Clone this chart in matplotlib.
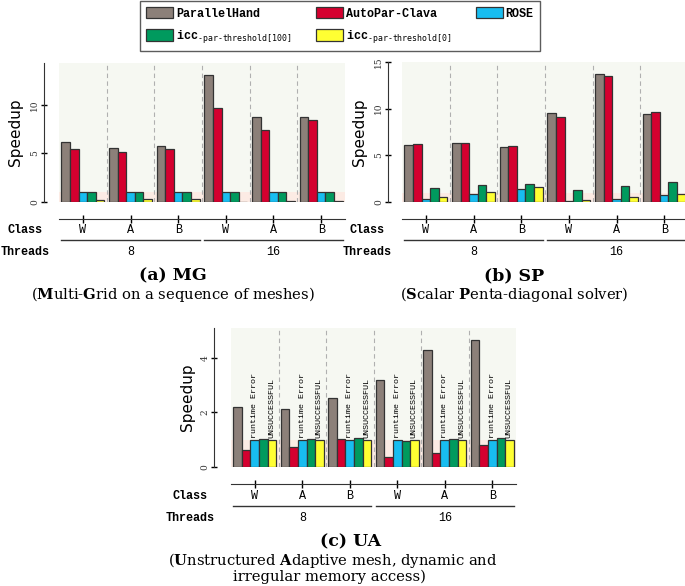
import numpy as np
import matplotlib.pyplot as plt
import matplotlib.transforms as mtransforms
from matplotlib.patches import Patch

plt.rcParams['mathtext.fontset'] = 'dejavuserif'

# dados
classes = ['W', 'A', 'B', 'W', 'A', 'B']
threads = ['8', '16']
nomes = ['ParallelHand', 'AutoPar-Clava', 'ROSE',
         r'icc$_{\mathtt{‐par‐threshold[100]}}$', r'icc$_{\mathtt{‐par‐threshold[0]}}$']
cores = ['#8c8079', '#d4002f', '#18bdf0', '#009a5e', '#ffff33']

mg_ph = [6.2, 5.6, 5.75, 13.1, 8.75, 8.7]
mg_ac = [5.5, 5.1, 5.5, 9.65, 7.4, 8.4]
mg_rose = [1.05, 1.0, 1.0, 1.05, 1.0, 1.0]
mg_icc100 = [1.05, 1.0, 1.0, 1.0, 1.0, 1.0]
mg_icc0 = [0.25, 0.35, 0.35, 0.05, 0.15, 0.15]

sp_ph = [6.15, 6.35, 5.85, 9.5, 13.7, 9.4]
sp_ac = [6.2, 6.35, 6.05, 9.15, 13.55, 9.65]
sp_rose = [0.35, 0.9, 1.35, 0.15, 0.35, 0.7]
sp_icc100 = [1.5, 1.8, 1.9, 1.25, 1.7, 2.1]
sp_icc0 = [0.5, 1.05, 1.6, 0.2, 0.5, 0.9]

ua_ph = [2.2, 2.12, 2.53, 3.19, 4.3, 4.65]
ua_ac = [0.62, 0.74, 1.03, 0.38, 0.5, 0.8]
ua_rose = [1.0, 1.0, 1.0, 1.0, 1.0, 1.0]
ua_icc100 = [1.03, 1.03, 1.07, 0.96, 1.03, 1.07]
ua_icc0 = [1.0, 1.0, 1.0, 1.0, 1.0, 1.0]

W, H = 685, 586
fig = plt.figure(figsize=(W / 100, H / 100), dpi=100)

mono = 'Liberation Mono'
serif = 'DejaVu Serif'


def fy(py):
    return 1 - py / H


def painel(rect, series, ymax, yticks, spine_out, ylin_class, x_class, x_ylabel):
    ax = fig.add_axes([rect[0] / W, fy(rect[3]), (rect[2] - rect[0]) / W, (rect[3] - rect[1]) / H])
    n = len(classes)
    x = np.arange(n)
    larg = 0.18
    # spines primeiro (set_position recria os ticks)
    ax.spines['top'].set_visible(False)
    ax.spines['right'].set_visible(False)
    ax.spines['left'].set_position(('outward', spine_out))
    ax.spines['bottom'].set_position(('outward', 12))
    ax.spines['left'].set_color('#333333')
    ax.spines['bottom'].set_color('#333333')

    ax.axhspan(0, 1, color='#fcebe4', zorder=0, lw=0)
    ax.axhspan(1, ymax, color='#f6f8f2', zorder=0, lw=0)
    for i in range(1, n):
        ax.axvline(i - 0.5, color='#b0b0b0', ls=(0, (4, 3)), lw=0.8, zorder=1)
    for k, vals in enumerate(series):
        ax.bar(x + (k - 2) * larg, vals, larg, color=cores[k], edgecolor='#333333', lw=0.9, zorder=2)
    ax.set_xlim(-0.5, n - 0.5)
    ax.set_ylim(0, ymax)
    ax.set_yticks(yticks)
    ax.set_yticklabels([str(t) for t in yticks], rotation=90, va='center', fontsize=6.5, family=serif, color='#333333')
    ax.tick_params(axis='y', direction='inout', length=5, width=1, pad=0.9)
    ax.set_xticks(x)
    ax.set_xticklabels([])
    ax.tick_params(axis='x', direction='inout', length=6, width=1)

    fig.text(x_ylabel / W, fy((rect[1] + rect[3]) / 2), 'Speedup', rotation=90, ha='center', va='center', fontsize=11)

    tr = mtransforms.blended_transform_factory(ax.transData, fig.transFigure)
    for i, c in enumerate(classes):
        ax.text(i, fy(ylin_class), c, transform=tr, ha='center', va='center', family=mono, fontsize=8.5)
    ax.plot([-0.45, 2.45], [fy(ylin_class + 10)] * 2, transform=tr, color='#333333', lw=1, clip_on=False)
    ax.plot([2.55, 5.45], [fy(ylin_class + 10)] * 2, transform=tr, color='#333333', lw=1, clip_on=False)
    ax.text(1, fy(ylin_class + 22), threads[0], transform=tr, ha='center', va='center', family=mono, fontsize=8.5)
    ax.text(4, fy(ylin_class + 22), threads[1], transform=tr, ha='center', va='center', family=mono, fontsize=8.5)
    fig.text(x_class / W, fy(ylin_class), 'Class', ha='center', va='center', family=mono, fontsize=8.5, weight='bold')
    fig.text(x_class / W, fy(ylin_class + 22), 'Threads', ha='center', va='center', family=mono, fontsize=8.5, weight='bold')
    return ax


ax1 = painel((59, 63, 345, 202), [mg_ph, mg_ac, mg_rose, mg_icc100, mg_icc0], 14.3, [0, 5, 10], 11, 230, 25, 16)
ax2 = painel((402, 62, 688, 202), [sp_ph, sp_ac, sp_rose, sp_icc100, sp_icc0], 15, [0, 5, 10, 15], 10, 230, 367, 359)
ax3 = painel((231, 328, 516, 467), [ua_ph, ua_ac, ua_rose, ua_icc100, ua_icc0], 5.1, [0, 2, 4], 12, 496, 190, 188)

for i in range(len(classes)):
    ax3.text(i, 1.08, 'runtime Error', rotation=90, ha='center', va='bottom', family=mono, fontsize=6, zorder=3)
    ax3.text(i + 2 * 0.18, 1.08, 'UNSUCCESSFUL', rotation=90, ha='center', va='bottom', family=mono, fontsize=6, zorder=3)

# legendas das subfiguras
fig.text(173 / W, fy(276), '(a) MG', ha='center', va='center', family=serif, fontsize=12.5, weight='bold')
fig.text(173 / W, fy(294), r'($\mathbf{M}$ulti-$\mathbf{G}$rid on a sequence of meshes)', ha='center', va='center', family=serif, fontsize=10.6)
fig.text(514 / W, fy(276), '(b) SP', ha='center', va='center', family=serif, fontsize=12.5, weight='bold')
fig.text(514 / W, fy(294), r'($\mathbf{S}$calar $\mathbf{P}$enta-diagonal solver)', ha='center', va='center', family=serif, fontsize=10.6)
fig.text(351 / W, fy(542), '(c) UA', ha='center', va='center', family=serif, fontsize=12.5, weight='bold')
fig.text(333 / W, fy(561), r'($\mathbf{U}$nstructured $\mathbf{A}$daptive mesh, dynamic and', ha='center', va='center', family=serif, fontsize=10.6)
fig.text(329 / W, fy(577), 'irregular memory access)', ha='center', va='center', family=serif, fontsize=10.6)

# legenda de cima
ordem = [0, 3, 1, 4, 2]
handles = [Patch(facecolor=cores[k], edgecolor='#333333', lw=0.9) for k in ordem]
leg = fig.legend(handles, [nomes[k] for k in ordem], loc='upper center', bbox_to_anchor=(340 / W, 1.0),
                 ncol=3, frameon=True, fancybox=False, edgecolor='#333333',
                 prop={'family': mono, 'size': 8.5, 'weight': 'bold'},
                 handlelength=2.3, handleheight=1.1, handletextpad=0.2, columnspacing=2.1,
                 borderpad=0.5, labelspacing=0.7, borderaxespad=0.1)
leg.get_frame().set_linewidth(1)

fig.savefig('out.png', dpi=100)
